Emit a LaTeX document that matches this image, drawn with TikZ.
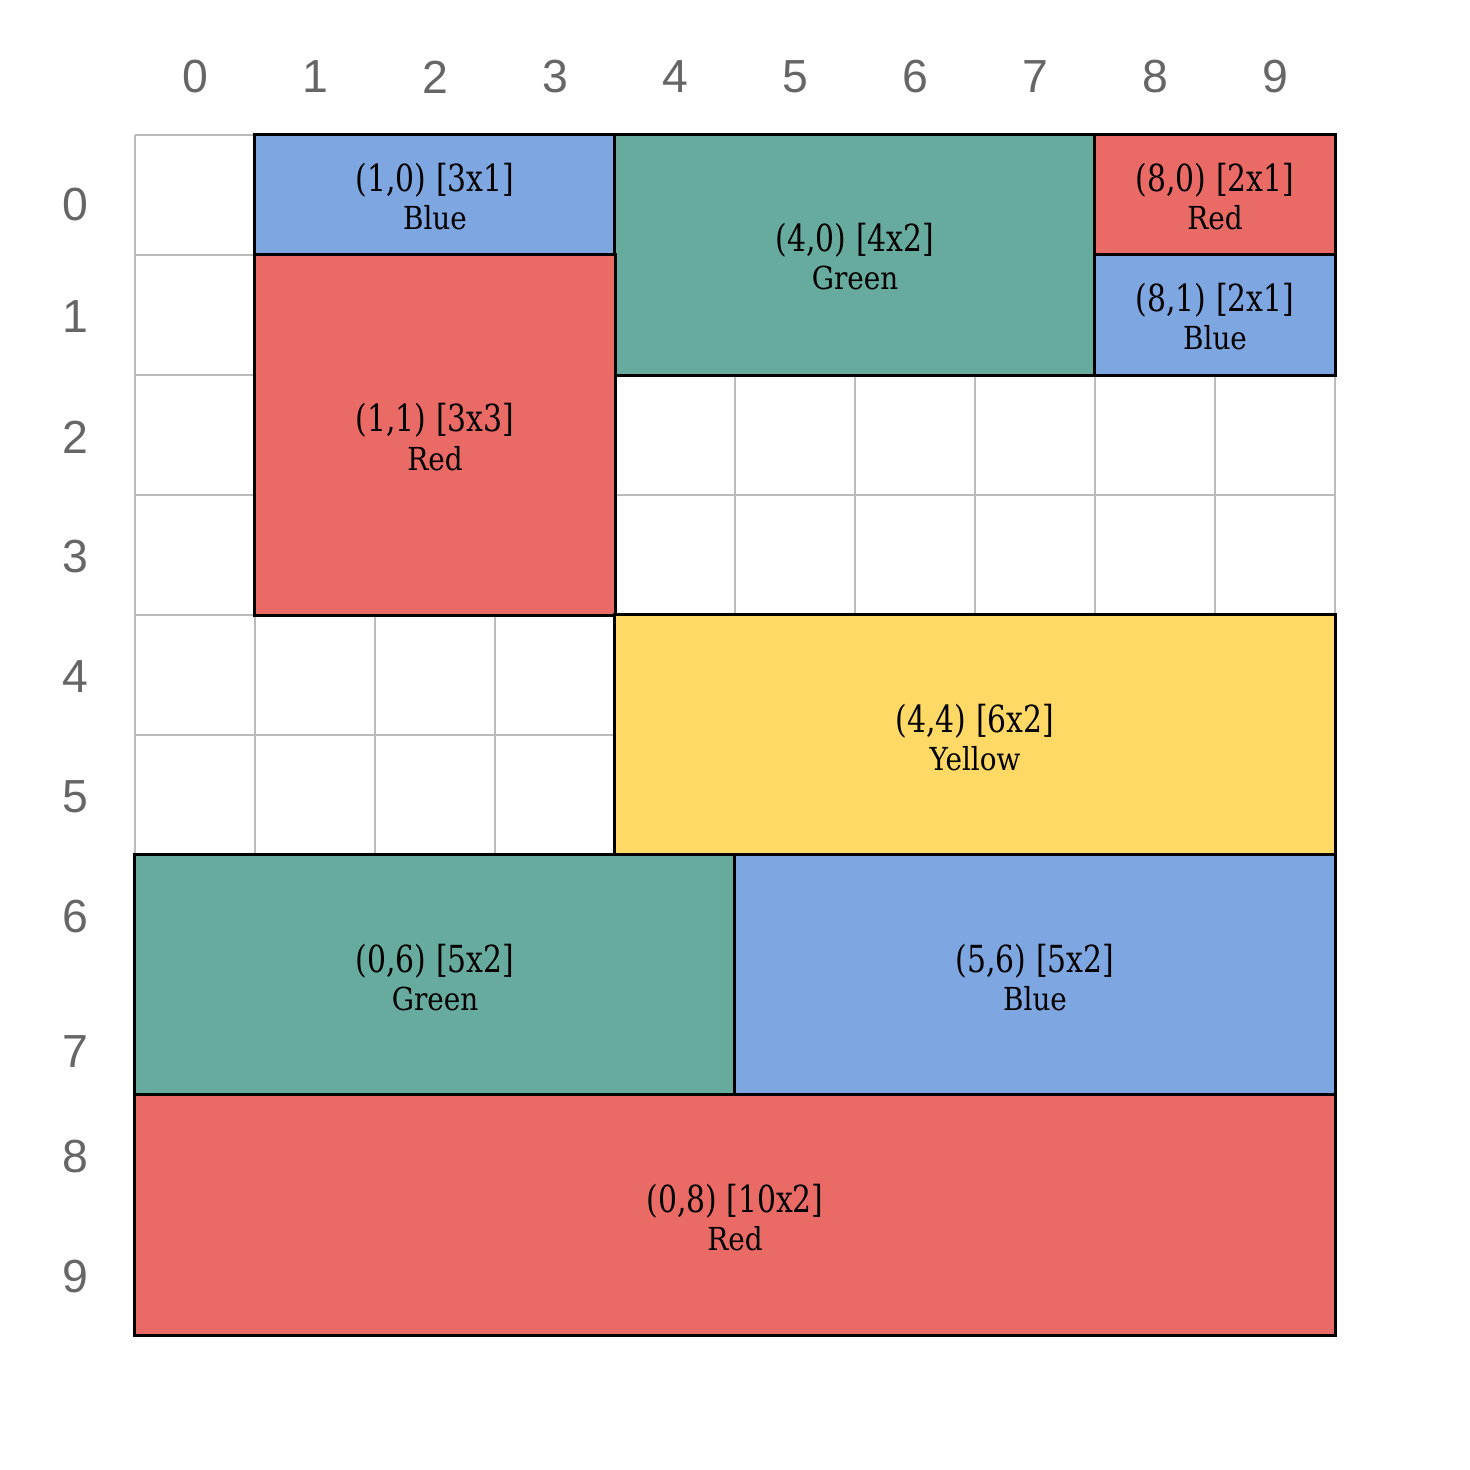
\documentclass[tikz,border=0pt]{standalone}
\usepackage{fontspec}
\setmainfont{DejaVu Serif}[FakeStretch=0.88]
\newfontfamily\coordfont{DejaVu Serif}[FakeStretch=0.8]
\newfontfamily\axisfont{Liberation Sans}
\usetikzlibrary{calc}
\definecolor{cblue}{HTML}{7EA6E0}
\definecolor{cred}{HTML}{EA6B66}
\definecolor{cgreen}{HTML}{67AB9F}
\definecolor{cyellow}{HTML}{FFD966}
\definecolor{gridgray}{HTML}{BBBBBB}
\definecolor{axisgray}{HTML}{666666}
\tikzset{
  gridline/.style={draw=gridgray, line width=0.3pt},
  blk/.style={rectangle, draw=black, line width=0.85pt, inner sep=0pt, outer sep=0pt},
  coordlbl/.style={font=\coordfont\fontsize{10.6}{12}\selectfont, anchor=base, inner sep=0pt},
  namelbl/.style={font=\fontsize{9}{10}\selectfont, anchor=base, inner sep=0pt},
  axislbl/.style={font=\axisfont\fontsize{13.2}{15}\selectfont, text=axisgray, inner sep=0pt}
}
\begin{document}
\begin{tikzpicture}[x=0.01cm, y=-0.01cm]
\useasboundingbox (0,0) rectangle (1470,1470);
% grid
\foreach \i in {0,...,10}{
  \draw[gridline] ({135+120*\i},135) -- ({135+120*\i},1335);
  \draw[gridline] (135,{135+120*\i}) -- (1335,{135+120*\i});
}
% axis labels
\foreach \i in {0,...,9}{
  \node[axislbl] (col\i) at ({195+120*\i},77) {\i};
}
\foreach \i/\yy in {0/205,1/317,2/437,3/557,4/677,5/797,6/917,7/1052,8/1157,9/1277}{
  \node[axislbl] (row\i) at (75,\yy) {\i};
}
% blocks
\foreach \c/\r/\w/\h/\fc/\nm in {1/0/3/1/cblue/Blue, 4/0/4/2/cgreen/Green, 8/0/2/1/cred/Red, 8/1/2/1/cblue/Blue, 1/1/3/3/cred/Red, 4/4/6/2/cyellow/Yellow, 0/6/5/2/cgreen/Green, 5/6/5/2/cblue/Blue, 0/8/10/2/cred/Red}{
  \pgfmathsetmacro\cx{135+120*(\c+\w/2)}
  \pgfmathsetmacro\cy{135+120*(\r+\h/2)}
  \pgfmathsetmacro\bw{1.2*\w}
  \pgfmathsetmacro\bh{1.2*\h}
  \node[blk, fill=\fc, minimum width=\bw cm, minimum height=\bh cm] (b\c\r) at (\cx,\cy) {};
  \node[coordlbl] (t\c\r) at ($(b\c\r.center)+(0,-3)$) {(\c,\r) [\w x\h]};
  \node[namelbl] (n\c\r) at ($(b\c\r.center)+(0,35)$) {\nm};
}
\end{tikzpicture}
\end{document}
